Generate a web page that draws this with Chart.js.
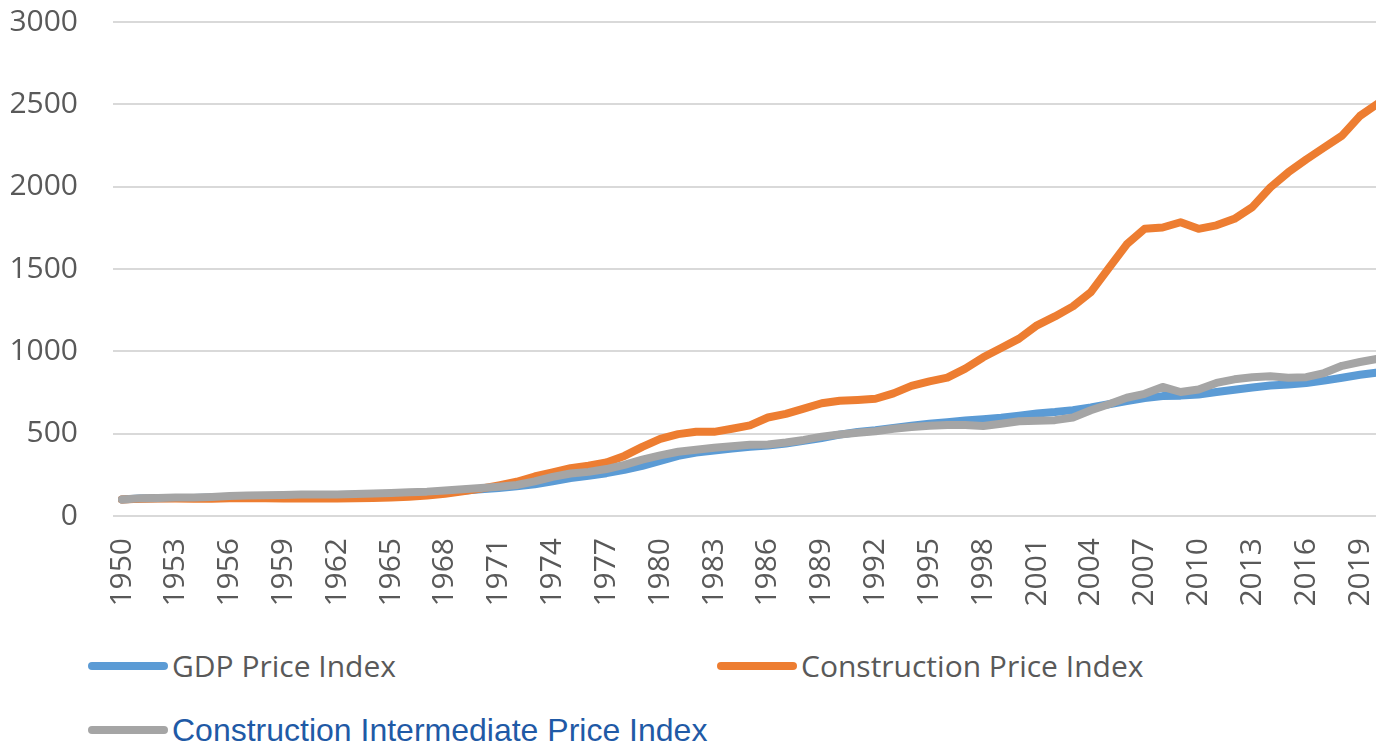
<!DOCTYPE html>
<html>
<head>
<meta charset="utf-8">
<script src="https://cdn.jsdelivr.net/npm/chart.js@4.4.1/dist/chart.umd.min.js"></script>
<style>
html,body{margin:0;padding:0;background:#fff;overflow:hidden;width:1376px;height:745px;}
#c{position:absolute;left:0;top:-31px;}
.leg{position:absolute;display:flex;align-items:center;white-space:nowrap;height:40px;line-height:40px;}
.sw{width:80px;height:8px;border-radius:4px;margin-right:4px;flex:none;}
.t1{font-family:"Open Sans",sans-serif;font-size:30px;color:#595959;}
.t2{font-family:"Liberation Sans",Arial,sans-serif;font-size:32px;color:#1f5aa6;}
</style>
</head>
<body>
<canvas id="c" width="1418" height="651"></canvas>
<div class="leg" id="l0" style="left:88px;top:646px;"><div class="sw" style="background:#5b9bd5"></div><span class="t1">GDP Price Index</span></div>
<div class="leg" id="l1" style="left:717px;top:646px;"><div class="sw" style="background:#ed7d31"></div><span class="t1">Construction Price Index</span></div>
<div class="leg" id="l2" style="left:88px;top:710px;"><div class="sw" style="background:#a5a5a5"></div><span class="t2">Construction Intermediate Price Index</span></div>
<script>
const years = [1950,1951,1952,1953,1954,1955,1956,1957,1958,1959,
1960,1961,1962,1963,1964,1965,1966,1967,1968,1969,
1970,1971,1972,1973,1974,1975,1976,1977,1978,1979,
1980,1981,1982,1983,1984,1985,1986,1987,1988,1989,
1990,1991,1992,1993,1994,1995,1996,1997,1998,1999,
2000,2001,2002,2003,2004,2005,2006,2007,2008,2009,
2010,2011,2012,2013,2014,2015,2016,2017,2018,2019,2020];

const tickYears = [1950,1953,1956,1959,1962,1965,1968,1971,1974,1977,1980,1983,1986,1989,1992,1995,1998,2001,2004,2007,2010,2013,2016,2019];

const gdpPriceIndex = [100,106,108,109,110,112,116,119,122,123,
125,126,128,129,131,134,137,141,147,154,
163,170,180,192,210,230,244,260,280,305,
335,365,385,398,410,420,428,440,456,474,
494,510,521,535,548,560,570,580,588,597,
609,622,631,643,659,679,698,716,728,731,
738,753,767,780,792,799,807,822,840,858,872];

const constructionPriceIndex = [100,104,106,107,105,105,108,110,108,107,
106,107,107,108,110,112,117,124,135,150,
166,186,208,240,265,290,305,325,365,420,
468,497,512,511,530,550,598,620,652,685,
700,705,712,745,790,818,840,895,964,1020,
1077,1158,1212,1273,1360,1505,1650,1745,1752,1784,
1744,1765,1805,1876,1995,2087,2165,2238,2310,2430,2505];

const constructionIntermediatePriceIndex = [100,108,110,112,112,116,122,125,126,128,
130,130,131,133,136,139,144,148,155,163,
170,178,188,210,238,258,268,285,310,342,
368,390,402,414,424,432,434,446,462,482,
495,506,515,530,540,548,552,552,546,560,
575,578,582,598,642,679,718,742,784,753,
768,808,830,843,848,840,843,868,912,935,955];

const tickFont = {family: '"Open Sans", sans-serif', size: 30};

new Chart(document.getElementById('c'), {
  type: 'line',
  data: {
    labels: years,
    datasets: [
      {label:'GDP Price Index', data: gdpPriceIndex, borderColor:'#5b9bd5', order:2},
      {label:'Construction Price Index', data: constructionPriceIndex, borderColor:'#ed7d31', order:1},
      {label:'Construction Intermediate Price Index', data: constructionIntermediatePriceIndex, borderColor:'#a5a5a5', order:0}
    ]
  },
  options: {
    responsive: false,
    animation: false,
    devicePixelRatio: 1,
    layout: {padding: {top: 0, left: 0, right: 0, bottom: 0}},
    elements: {
      line: {borderWidth: 8, tension: 0, borderCapStyle: 'round', borderJoinStyle: 'round', fill: false},
      point: {radius: 0, hoverRadius: 0}
    },
    plugins: {legend: {display: false}, tooltip: {enabled: false}},
    scales: {
      x: {
        type: 'category',
        offset: true,
        grid: {display: false, drawTicks: false},
        border: {display: false},
        ticks: {
          autoSkip: false, minRotation: 90, maxRotation: 90, padding: 22,
          color: '#595959', font: tickFont,
          callback: function(v, i) { const y = years[i]; return tickYears.includes(y) ? String(y) : null; }
        },
        afterFit: function(s) { s.height = 104; }
      },
      y: {
        min: 0, max: 3000,
        grid: {color: '#d9d9d9', lineWidth: 2, drawTicks: false},
        border: {display: false},
        ticks: {stepSize: 500, padding: 35, color: '#595959', font: tickFont,
          callback: function(v) { return String(v); }},
        afterFit: function(s) { s.width = 113; }
      }
    }
  }
});
</script>
</body>
</html>
